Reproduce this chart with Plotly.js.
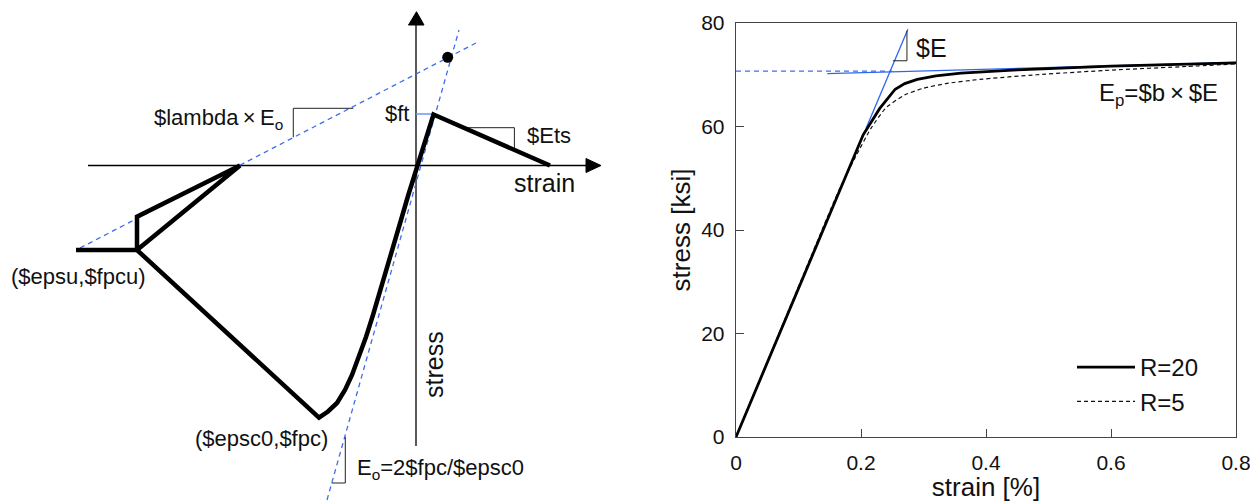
<!DOCTYPE html>
<html>
<head>
<meta charset="utf-8">
<script src="https://cdn.plot.ly/plotly-3.0.1.min.js"></script>
<style>html,body{margin:0;padding:0;background:#fff;}#chart{width:1250px;height:502px;}</style>
</head>
<body>
<div id="chart"></div>
<script>
// ---------- Left panel: Concrete02 schematic (schematic units, origin at axes crossing) ----------
const concreteStrain = [-340, -279, -97, -88, -79, -71, -64, -57, -50, -43, -36, -29, -22, -15, -8, 1.5, 17.5, 134];
const concreteStress = [-84.5, -84.5, -252.2, -246, -237.5, -224.5, -209.5, -191.5, -171.5, -149.5, -126.5, -102.5, -78.5, -54.5, -30.5, 0, 51, 0];
const unloadStrain = [-279, -176, -279, -279];
const unloadStress = [-84.5, 0, -51.2, -84.5];
const lambdaLineStrain = [-336, 60];
const lambdaLineStress = [-82.5, 122.5];
const eoLineStrain = [-89, 43];
const eoLineStress = [-334.5, 135.5];
const ftLineStrain = [0, 18];
const ftLineStress = [51.5, 51.5];
const focalPoint = {strain: [31.7], stress: [108.2]};
const lambdaTriStrain = [-122.7, -122.7, -62.7];
const lambdaTriStress = [28.2, 57.2, 57.2];
const etsTriStrain = [46.7, 98.4, 98.4];
const etsTriStress = [37.8, 37.8, 16];
const eoTriStrain = [-70.7, -70.7, -84.3];
const eoTriStress = [-271.5, -317.5, -317.5];
const strainAxisX = [-328, 172];
const strainAxisY = [0, 0];
const stressAxisX = [0, 0];
const stressAxisY = [-280.5, 141];

// ---------- Right panel: Steel02 stress-strain ----------
const strainR20 = [0, 0.2035, 0.23, 0.2547, 0.27, 0.29, 0.32, 0.36, 0.45, 0.6, 0.8];
const stressR20 = [0, 58.4, 63.5, 67.2, 68.3, 69.1, 69.8, 70.3, 70.95, 71.65, 72.3];
const strainR5 = [0, 0.155, 0.1675, 0.1915, 0.2157, 0.2397, 0.2698, 0.300, 0.336, 0.390, 0.4806, 0.601, 0.7214, 0.8];
const stressR5 = [0, 45, 48.4, 54.2, 59.6, 63.6, 66.1, 67.4, 68.3, 69.1, 70.0, 70.9, 71.6, 72.1];
const fyLineStrain = [0, 0.25];
const fyLineStress = [70.7, 70.7];
const eLineStrain = [0.208, 0.275];
const eLineStress = [59.6, 78.8];
const epLineStrain = [0.146, 0.8];
const epLineStress = [70.2, 72.4];
const eTriStrain = [0.251, 0.2735, 0.2735];
const eTriStress = [72.7, 72.7, 78.5];
const xTicks = [0, 0.2, 0.4, 0.6, 0.8];
const yTicks = [0, 20, 40, 60, 80];

const FONT = 'Liberation Sans, Arial, sans-serif';
const BLUE = '#3f6fe8';
const blk = '#000';
const TIMES = '\u2009\u00d7\u2009';

function ln(x, y, ax, style, extra) {
  return Object.assign({x: x, y: y, mode: 'lines', xaxis: ax[0], yaxis: ax[1], showlegend: false,
    hoverinfo: 'skip', line: style}, extra || {});
}
const L = ['x2', 'y2'];
const R = ['x', 'y'];

const traces = [
  ln(strainAxisX, strainAxisY, L, {color: blk, width: 1.3}),
  ln(stressAxisX, stressAxisY, L, {color: blk, width: 1.3}),
  ln(lambdaLineStrain, lambdaLineStress, L, {color: BLUE, width: 1.3, dash: '5px,4px'}),
  ln(eoLineStrain, eoLineStress, L, {color: BLUE, width: 1.3, dash: '5px,4px'}),
  ln(ftLineStrain, ftLineStress, L, {color: '#6f94f0', width: 1.5}),
  ln(lambdaTriStrain, lambdaTriStress, L, {color: '#222', width: 1}),
  ln(etsTriStrain, etsTriStress, L, {color: '#222', width: 1}),
  ln(eoTriStrain, eoTriStress, L, {color: '#222', width: 1}),
  ln(unloadStrain, unloadStress, L, {color: blk, width: 4.5}),
  ln(concreteStrain, concreteStress, L, {color: blk, width: 4.5}),
  {x: focalPoint.strain, y: focalPoint.stress, mode: 'markers', xaxis: 'x2', yaxis: 'y2', showlegend: false,
   hoverinfo: 'skip', marker: {color: blk, size: 11}},

  ln(fyLineStrain, fyLineStress, R, {color: BLUE, width: 1.2, dash: '5px,4px'}),
  ln(epLineStrain, epLineStress, R, {color: '#2f66f0', width: 1.3}),
  ln(eLineStrain, eLineStress, R, {color: '#2f66f0', width: 1.3}),
  ln(eTriStrain, eTriStress, R, {color: '#222', width: 1}),
  {x: strainR5, y: stressR5, mode: 'lines', xaxis: 'x', yaxis: 'y', name: 'R=5', hoverinfo: 'skip',
   line: {color: '#111', width: 1.2, dash: '4px,3px', shape: 'spline', smoothing: 0.5}},
  {x: strainR20, y: stressR20, mode: 'lines', xaxis: 'x', yaxis: 'y', name: 'R=20', hoverinfo: 'skip',
   line: {color: blk, width: 2.8}}
];

function ann(text, x, y, ax, opts) {
  return Object.assign({text: text, x: x, y: y, xref: ax[0], yref: ax[1], showarrow: false,
    font: {family: FONT, size: 22, color: '#111'}}, opts || {});
}

const annotations = [
  ann('$lambda' + TIMES + 'E<sub>o</sub>', -131, 47, L, {xanchor: 'right', yanchor: 'middle'}),
  ann('$ft', -5, 52.5, L, {xanchor: 'right', yanchor: 'middle'}),
  ann('$Ets', 109, 30.5, L, {xanchor: 'left', yanchor: 'middle'}),
  ann('strain', 96, -17.5, L, {xanchor: 'left', yanchor: 'middle', font: {family: FONT, size: 25, color: '#111'}}),
  ann('stress', 18, -199.5, L, {xanchor: 'center', yanchor: 'middle', textangle: -90, font: {family: FONT, size: 25, color: '#111'}}),
  ann('($epsu,$fpcu)', -268, -111.2, L, {xanchor: 'right', yanchor: 'middle'}),
  ann('($epsc0,$fpc)', -223.4, -272.5, L, {xanchor: 'left', yanchor: 'middle'}),
  ann('E<sub>o</sub>=2$fpc/$epsc0', -61, -303, L, {xanchor: 'left', yanchor: 'middle'}),

  ann('$F<sub>y</sub>', -0.0096, 70.2, R, {xanchor: 'right', yanchor: 'middle', font: {family: FONT, size: 25, color: '#111'}}),
  ann('$E', 0.2848, 75.2, R, {xanchor: 'left', yanchor: 'middle', font: {family: FONT, size: 25, color: '#111'}}),
  ann('E<sub>p</sub>=$b' + TIMES + '$E', 0.577, 66.1, R, {xanchor: 'left', yanchor: 'middle', font: {family: FONT, size: 24, color: '#111'}})
];

const shapes = [
  // arrowheads of the schematic axes
  {type: 'path', xref: 'x2', yref: 'y2', path: 'M 170 7 L 185 0 L 170 -7 Z', fillcolor: blk, line: {color: blk, width: 1}},
  {type: 'path', xref: 'x2', yref: 'y2', path: 'M -7.5 140.5 L 0.5 153.8 L 8 140.5 Z', fillcolor: blk, line: {color: blk, width: 1}}
];

const axisCommon = {
  showgrid: false, zeroline: false, showline: true, linecolor: '#444', linewidth: 1.3, mirror: true,
  ticks: 'inside', ticklen: 8, tickwidth: 1, tickcolor: '#444',
  tickfont: {family: FONT, size: 21, color: '#111'}, fixedrange: true, automargin: false
};

const layout = {
  width: 1250, height: 502,
  margin: {l: 0, r: 0, t: 0, b: 0},
  paper_bgcolor: '#fff', plot_bgcolor: 'rgba(0,0,0,0)',
  showlegend: true,
  legend: {x: 1072 / 1250, y: 1 - 345 / 502, xanchor: 'left', yanchor: 'top',
    font: {family: FONT, size: 24, color: '#111'}, bgcolor: 'rgba(0,0,0,0)', traceorder: 'reversed',
    itemwidth: 58, tracegroupgap: 0},
  xaxis: Object.assign({}, axisCommon, {domain: [736 / 1250, 1236 / 1250], range: [0, 0.8],
    tickvals: xTicks, ticktext: xTicks.map(String), ticklabelstandoff: 6, ticklabeloverflow: 'allow',
    title: {text: 'strain [%]', font: {family: FONT, size: 26, color: '#111'}, standoff: 8}, anchor: 'y'}),
  yaxis: Object.assign({}, axisCommon, {domain: [65 / 502, 479 / 502], range: [0, 80],
    tickvals: yTicks, ticktext: yTicks.map(String), ticklabelstandoff: 6, ticklabeloverflow: 'allow',
    title: {text: 'stress [ksi]', font: {family: FONT, size: 26, color: '#111'}, standoff: 3}, anchor: 'x'}),
  xaxis2: {domain: [0, 620 / 1250], range: [-416, 204], visible: false, fixedrange: true, anchor: 'y2'},
  yaxis2: {domain: [0, 1], range: [-336.5, 165.5], visible: false, fixedrange: true, anchor: 'x2'},
  annotations: annotations,
  shapes: shapes
};

Plotly.newPlot('chart', traces, layout, {displayModeBar: false, staticPlot: true});
</script>
</body>
</html>
